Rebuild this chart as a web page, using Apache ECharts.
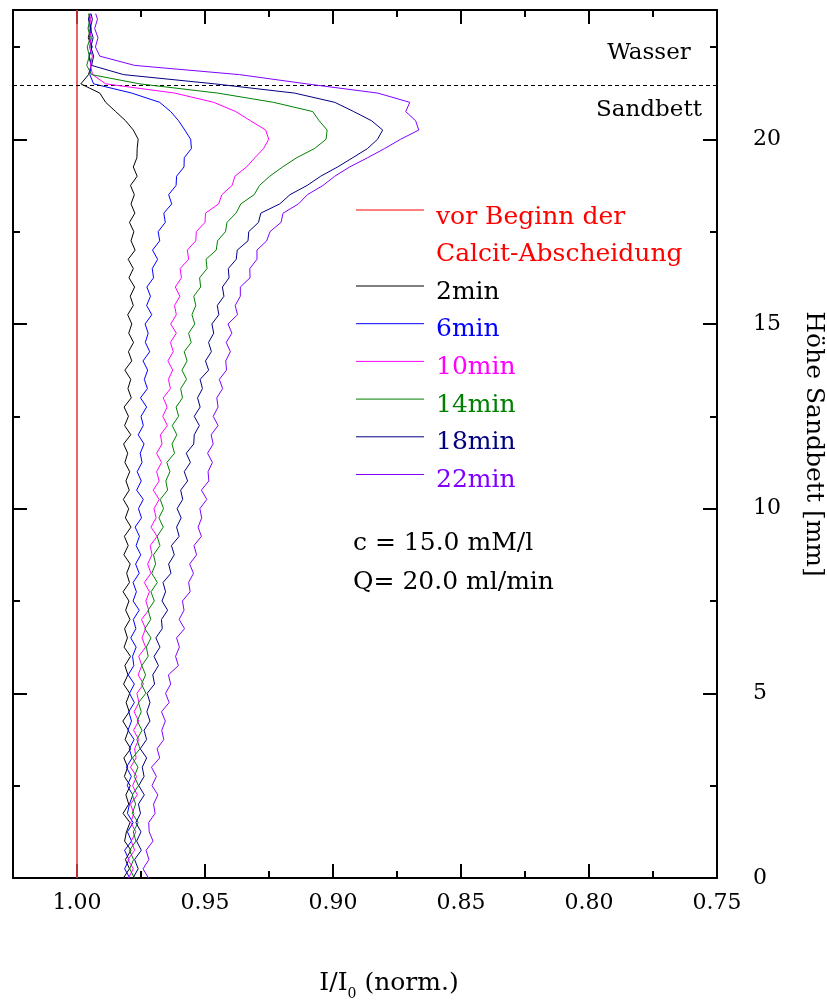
<!DOCTYPE html>
<html>
<head>
<meta charset="utf-8">
<script src="https://cdn.jsdelivr.net/npm/echarts@6/dist/echarts.min.js"></script>
<style>
  html, body { margin: 0; padding: 0; background: #fff; }
  #chart { width: 827px; height: 1001px; }
</style>
</head>
<body>
<div id="chart"></div>
<script>
// Sand bed height (mm) at which every profile is sampled
const heights = [
  0, 0.25, 0.5, 0.75, 1, 1.25, 1.5, 1.75, 2, 2.25, 2.5, 2.75,
  3, 3.25, 3.5, 3.75, 4, 4.25, 4.5, 4.75, 5, 5.25, 5.5, 5.75,
  6, 6.25, 6.5, 6.75, 7, 7.25, 7.5, 7.75, 8, 8.25, 8.5, 8.75,
  9, 9.25, 9.5, 9.75, 10, 10.25, 10.5, 10.75, 11, 11.25, 11.5, 11.75,
  12, 12.25, 12.5, 12.75, 13, 13.25, 13.5, 13.75, 14, 14.25, 14.5, 14.75,
  15, 15.25, 15.5, 15.75, 16, 16.25, 16.5, 16.75, 17, 17.25, 17.5, 17.75,
  18, 18.25, 18.5, 18.75, 19, 19.25, 19.5, 19.75, 20, 20.25, 20.5, 20.75,
  21, 21.25, 21.5, 21.75, 22, 22.25, 22.5, 22.75, 23, 23.25, 23.4
];

// Normalised intensity I/I0 profiles
const t2min = [
  .9819, .9795, .9811, .9789, .9814, .9807, .9793, .9820, .9798, .9809, .9792, .9815,
  .9802, .9817, .9790, .9812, .9799, .9821, .9796, .9808, .9794, .9818, .9801, .9813,
  .9791, .9816, .9803, .9814, .9793, .9810, .9797, .9820, .9795, .9806, .9792, .9817,
  .9800, .9815, .9789, .9811, .9798, .9819, .9796, .9809, .9794, .9813, .9802, .9818,
  .9790, .9814, .9799, .9816, .9788, .9801, .9790, .9813, .9786, .9799, .9779, .9798,
  .9786, .9802, .9780, .9792, .9775, .9797, .9780, .9800, .9773, .9789, .9778, .9795,
  .9774, .9789, .9776, .9791, .9765, .9780, .9766, .9765, .9761, .9780, .9810, .9849,
  .9888, .9911, .9985, .9955, .9945, .9952, .9942, .9956, .9947, .9955, .9950
];
const t6min = [
  .9794, .9814, .9797, .9814, .9787, .9803, .9781, .9803, .9795, .9782, .9804, .9788,
  .9807, .9785, .9796, .9777, .9801, .9787, .9798, .9776, .9795, .9776, .9800, .9778,
  .9783, .9769, .9790, .9770, .9780, .9757, .9781, .9768, .9781, .9757, .9771, .9751,
  .9769, .9756, .9773, .9748, .9760, .9741, .9767, .9749, .9765, .9746, .9753, .9738,
  .9761, .9741, .9750, .9728, .9752, .9725, .9737, .9724, .9742, .9716, .9733, .9722,
  .9734, .9708, .9728, .9713, .9727, .9701, .9706, .9685, .9705, .9677, .9683, .9655,
  .9661, .9630, .9642, .9613, .9611, .9582, .9581, .9553, .9556, .9579, .9603, .9634,
  .9677, .9786, .9935, .9950, .9945, .9953, .9941, .9951, .9944, .9954, .9948
];
const t10min = [
  .9799, .9780, .9801, .9775, .9788, .9770, .9790, .9778, .9791, .9764, .9783, .9767,
  .9791, .9769, .9775, .9759, .9779, .9759, .9777, .9758, .9766, .9740, .9761, .9747,
  .9759, .9732, .9746, .9732, .9748, .9720, .9731, .9717, .9737, .9711, .9724, .9707,
  .9714, .9687, .9711, .9691, .9699, .9679, .9702, .9679, .9689, .9670, .9689, .9668,
  .9674, .9647, .9665, .9648, .9663, .9635, .9643, .9626, .9645, .9624, .9635, .9612,
  .9634, .9612, .9619, .9598, .9616, .9592, .9597, .9564, .9569, .9536, .9534, .9500,
  .9498, .9447, .9434, .9394, .9383, .9338, .9305, .9271, .9251, .9263, .9322, .9380,
  .9466, .9618, .9888, .9939, .9948, .9940, .9952, .9943, .9954, .9946, .9951
];
const t14min = [
  .9776, .9794, .9779, .9795, .9770, .9780, .9761, .9784, .9771, .9784, .9760, .9776,
  .9762, .9783, .9754, .9766, .9746, .9765, .9749, .9760, .9731, .9748, .9732, .9747,
  .9722, .9729, .9711, .9735, .9712, .9722, .9698, .9711, .9686, .9708, .9693, .9701,
  .9676, .9687, .9663, .9680, .9662, .9675, .9646, .9653, .9637, .9649, .9619, .9629,
  .9610, .9628, .9603, .9613, .9588, .9595, .9572, .9590, .9570, .9581, .9554, .9564,
  .9540, .9551, .9536, .9544, .9517, .9521, .9492, .9496, .9456, .9451, .9420, .9414,
  .9379, .9360, .9308, .9287, .9247, .9197, .9142, .9072, .9027, .9023, .9054, .9079,
  .9232, .9450, .9755, .9943, .9962, .9952, .9960, .9948, .9957, .9950, .9955
];
const t18min = [
  .9781, .9761, .9775, .9749, .9767, .9750, .9770, .9752, .9760, .9737, .9759, .9738,
  .9745, .9728, .9753, .9728, .9738, .9715, .9727, .9715, .9726, .9697, .9704, .9682,
  .9699, .9676, .9692, .9667, .9670, .9646, .9668, .9654, .9664, .9633, .9642, .9620,
  .9631, .9601, .9611, .9593, .9609, .9587, .9595, .9568, .9581, .9557, .9573, .9544,
  .9542, .9522, .9542, .9519, .9529, .9510, .9519, .9486, .9498, .9475, .9486, .9466,
  .9473, .9446, .9452, .9426, .9432, .9406, .9409, .9378, .9374, .9332, .9329, .9291,
  .9282, .9208, .9168, .9101, .9048, .8982, .8923, .8865, .8826, .8806, .8849, .8919,
  .8993, .9150, .9462, .9818, .9943, .9935, .9946, .9937, .9948, .9940, .9945
];
const t22min = [
  .9721, .9742, .9719, .9730, .9703, .9718, .9720, .9695, .9701, .9684, .9707, .9690,
  .9709, .9677, .9687, .9661, .9669, .9655, .9670, .9640, .9654, .9634, .9643, .9604,
  .9615, .9600, .9611, .9580, .9601, .9582, .9588, .9558, .9564, .9545, .9560, .9533,
  .9543, .9514, .9527, .9513, .9520, .9493, .9514, .9485, .9488, .9471, .9490, .9468,
  .9476, .9449, .9468, .9449, .9454, .9431, .9444, .9416, .9419, .9401, .9417, .9395,
  .9410, .9373, .9382, .9362, .9362, .9324, .9325, .9297, .9297, .9259, .9246, .9203,
  .9195, .9135, .9100, .9039, .8993, .8935, .8865, .8798, .8736, .8665, .8677, .8716,
  .8700, .8825, .9103, .9365, .9775, .9911, .9928, .9918, .9931, .9920, .9927
];

// Reference profile before calcite deposition
const refHeights = [0, 23.5];
const refValues = [1.0, 1.0];

// Water / sand-bed interface height (mm)
const interfaceHeight = 21.47;

const profileNames = ['2min', '6min', '10min', '14min', '18min', '22min'];
const profileColors = ['#000000', '#0000ff', '#ff00ff', '#008000', '#000080', '#8000ff'];
const profileValues = [t2min, t6min, t10min, t14min, t18min, t22min];
const refName = 'vor Beginn der Calcit-Abscheidung';
const refLabel = ['vor Beginn der', 'Calcit-Abscheidung'];
const refColor = '#ff0000';

const xRange = { min: 0.75, max: 1.025 };
const yRange = { min: 0, max: 23.5 };

const FONT = 'DejaVu Serif';
const font = size => size + 'px "' + FONT + '"';

const chart = echarts.init(document.getElementById('chart'), null, { renderer: 'canvas' });

// One axis per tick length: long ticks carry the labels, short ones fill the halves
function xAxisDef(position, interval, tickLen, withLabels) {
  return {
    type: 'value', position: position, gridIndex: 0,
    min: xRange.min, max: xRange.max, interval: interval, inverse: true,
    axisLine: { show: withLabels !== null, onZero: false, lineStyle: { color: '#000', width: 2 } },
    axisTick: { show: true, inside: true, length: tickLen, lineStyle: { color: '#000', width: 2 } },
    axisLabel: withLabels ? {
      show: true, margin: 14, showMaxLabel: false, color: '#000',
      fontFamily: FONT, fontSize: 22, formatter: v => v.toFixed(2)
    } : { show: false },
    splitLine: { show: false }
  };
}
function yAxisDef(position, interval, tickLen, withLabels) {
  return {
    type: 'value', position: position, gridIndex: 0,
    min: yRange.min, max: yRange.max, interval: interval,
    axisLine: { show: withLabels !== null, onZero: false, lineStyle: { color: '#000', width: 2 } },
    axisTick: { show: true, inside: true, length: tickLen, lineStyle: { color: '#000', width: 2 } },
    axisLabel: withLabels ? {
      show: true, margin: 36, showMaxLabel: false, color: '#000', align: 'left',
      fontFamily: FONT, fontSize: 22
    } : { show: false },
    splitLine: { show: false }
  };
}

const xMain = xAxisDef('bottom', 0.05, 14, true);
xMain.name = '{n|I/I}{s|0}{n| (norm.)}';
xMain.nameLocation = 'middle';
xMain.nameGap = 87;
xMain.nameTextStyle = {
  color: '#000', padding: [0, 0, 0, 48],
  rich: {
    n: { fontFamily: FONT, fontSize: 25, color: '#000' },
    s: { fontFamily: FONT, fontSize: 14, color: '#000', padding: [22, 0, 0, 0] }
  }
};

const yMain = yAxisDef('right', 5, 14, true);
yMain.name = 'Höhe Sandbett [mm]';
yMain.nameLocation = 'middle';
yMain.nameRotate = -90;
yMain.nameGap = 84;
yMain.nameTextStyle = { fontFamily: FONT, fontSize: 25, color: '#000' };

const series = [{
  name: refName, type: 'line', xAxisIndex: 0, yAxisIndex: 0,
  data: refHeights.map((h, i) => [refValues[i], h]),
  showSymbol: false, symbol: 'none',
  lineStyle: { color: '#f03c3c', width: 1.6 },
  markLine: {
    silent: true, symbol: ['none', 'none'], label: { show: false },
    lineStyle: { color: '#000', width: 1, type: [4, 3] },
    data: [{ yAxis: interfaceHeight }]
  },
  z: 2
}];
profileNames.forEach((name, k) => {
  series.push({
    name: name, type: 'line', xAxisIndex: 0, yAxisIndex: 0,
    data: heights.map((h, i) => [profileValues[k][i], h]),
    showSymbol: false, symbol: 'none',
    lineStyle: { color: profileColors[k], width: 1 },
    z: 3 + k
  });
});

// Key drawn as line swatches plus coloured names
const legendX0 = 356, legendX1 = 424, legendTextX = 436;
const refRowY = 210, rowStep = 37.7, firstProfileRowY = 286;
const graphics = [];
graphics.push({ type: 'line', shape: { x1: legendX0, y1: refRowY, x2: legendX1, y2: refRowY },
  style: { stroke: refColor, lineWidth: 1 } });
refLabel.forEach((txt, j) => {
  graphics.push({ type: 'text', x: legendTextX, y: refRowY + 7 + j * 37,
    style: { text: txt, fill: refColor, font: font(25), verticalAlign: 'middle' } });
});
profileNames.forEach((name, k) => {
  const y = firstProfileRowY + k * rowStep;
  graphics.push({ type: 'line', shape: { x1: legendX0, y1: y, x2: legendX1, y2: y },
    style: { stroke: profileColors[k], lineWidth: 1 } });
  graphics.push({ type: 'text', x: legendTextX, y: y + 6,
    style: { text: name, fill: profileColors[k], font: font(25), verticalAlign: 'middle' } });
});
// Experimental conditions
graphics.push({ type: 'text', x: 353, y: 543,
  style: { text: 'c = 15.0 mM/l', fill: '#000', font: font(25), verticalAlign: 'middle' } });
graphics.push({ type: 'text', x: 353, y: 582,
  style: { text: 'Q= 20.0 ml/min', fill: '#000', font: font(25), verticalAlign: 'middle' } });
// Zone labels above/below the interface
graphics.push({ type: 'text', x: 649, y: 53,
  style: { text: 'Wasser', fill: '#000', font: font(23), align: 'center', verticalAlign: 'middle' } });
graphics.push({ type: 'text', x: 649, y: 110,
  style: { text: 'Sandbett', fill: '#000', font: font(23), align: 'center', verticalAlign: 'middle' } });

chart.setOption({
  animation: false,
  backgroundColor: '#fff',
  grid: { left: 13, right: 110, top: 10, bottom: 123, containLabel: false, outerBoundsMode: 'none' },
  xAxis: [
    xMain,
    xAxisDef('bottom', 0.025, 7, null),
    xAxisDef('top', 0.05, 14, false),
    xAxisDef('top', 0.025, 7, null)
  ],
  yAxis: [
    yMain,
    yAxisDef('right', 2.5, 7, null),
    yAxisDef('left', 5, 14, false),
    yAxisDef('left', 2.5, 7, null)
  ],
  series: series,
  graphic: graphics
});
</script>
</body>
</html>
